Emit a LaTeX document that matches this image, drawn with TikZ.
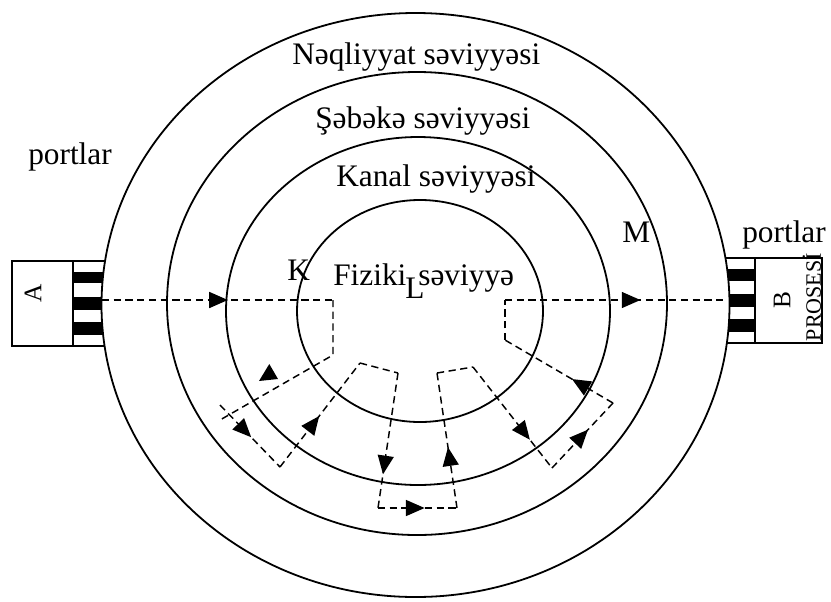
\documentclass[tikz,border=0pt]{standalone}
\usepackage{fontspec}
\setmainfont{Liberation Serif}
\usetikzlibrary{arrows.meta,decorations.markings}
\begin{document}
\begin{tikzpicture}[x=0.75pt,y=-0.75pt,
  lay/.style={line width=1.35pt},
  boxline/.style={line width=1.2pt},
  flow/.style={dash pattern=on 5.4pt off 3.4pt, line width=1.1pt},
  ar/.style={postaction={decorate},decoration={markings,mark=at position #1 with {\arrow{Triangle[length=14pt,width=12pt]}}}},
  lbl/.style={inner sep=0pt, anchor=base west, font=\fontsize{23.5}{27}\selectfont},
  small/.style={inner sep=0pt, rotate=90, font=\fontsize{19}{21}\selectfont},
  tiny/.style={inner sep=0pt, rotate=90, font=\fontsize{16.5}{18}\selectfont}]
\useasboundingbox (0,0) rectangle (831,601);

% port boxes, clipped to the outside of the outer ellipse
\begin{scope}[even odd rule]
\clip (0,0) rectangle (831,601) (415.5,305) ellipse [x radius=314*0.75pt, y radius=292*0.75pt];
\draw[boxline] (110,261) -- (12,261) -- (12,346) -- (110,346);
\draw[boxline] (73,261) -- (73,346);
\fill (73,272) rectangle (110,283);
\fill (73,297) rectangle (110,310);
\fill (73,322) rectangle (110,335);
\draw[boxline] (718,258) -- (822,258) -- (822,343) -- (718,343);
\draw[boxline] (755,258) -- (755,343);
\fill (718,269) rectangle (755,281);
\fill (718,294) rectangle (755,307);
\fill (718,319) rectangle (755,332);
\end{scope}

% layers
\draw[lay] (415.5,305) ellipse [x radius=314*0.75pt, y radius=292*0.75pt];
\draw[lay] (417,303.5) ellipse [x radius=250*0.75pt, y radius=231.5*0.75pt];
\draw[lay] (418,311) ellipse [x radius=192*0.75pt, y radius=174*0.75pt];
\draw[lay] (420,311) ellipse [x radius=123*0.75pt, y radius=111*0.75pt];

% path points
\coordinate (p0) at (102,300);
\coordinate (p1) at (333,300);
\coordinate (p2) at (333,355);
\coordinate (p3) at (220,420);
\coordinate (q0) at (220,405);
\coordinate (q1) at (280,467);
\coordinate (q2) at (360,363);
\coordinate (q3) at (398,373);
\coordinate (q4) at (378,508);
\coordinate (q5) at (457,508);
\coordinate (q6) at (437,373);
\coordinate (q7) at (473,367);
\coordinate (q8) at (552,468);
\coordinate (q9) at (613,403);
\coordinate (r0) at (505,340);
\coordinate (r1) at (505,300);
\coordinate (r2) at (727,300);

\draw[flow,ar=0.545] (p0) -- (p1);
\draw[flow] (p1) -- (p2) -- (p3);
\fill (269.3,364) -- (259,381) -- (278,379) -- cycle;
\draw[flow,ar=0.52] (q0) -- (q1);
\draw[flow,ar=0.49] (q1) -- (q2);
\draw[flow] (q2) -- (q3);
\draw[flow,ar=0.75] (q3) -- (q4);
\draw[flow,ar=0.59] (q4) -- (q5);
\draw[flow,ar=0.45] (q5) -- (q6);
\draw[flow] (q6) -- (q7);
\draw[flow,ar=0.72] (q7) -- (q8);
\draw[flow,ar=0.59] (q8) -- (q9);
\draw[flow,ar=0.38] (q9) -- (r0);
\draw[flow] (r0) -- (r1);
\draw[flow,ar=0.61] (r1) -- (r2);

% labels
\node[lbl] (nq) at (292,64) {Nəqliyyat səviyyəsi};
\node[lbl] (sb) at (315,128) {Şəbəkə səviyyəsi};
\node[lbl] (kn) at (336,186) {Kanal səviyyəsi};
\node[lbl] (fz) at (333,285) {Fiziki\hskip 9pt səviyyə};
\node[lbl] (L) at (405,298) {L};
\node[lbl] (K) at (287,280) {K};
\node[lbl] (M) at (622,242) {M};
\node[lbl] (pl) at (28,164) {portlar};
\node[lbl] (pr) at (742,242) {portlar};
\node[small] (A) at (33,293) {A};
\node[small] (B) at (782,300) {B};
\node[tiny] (pro) at (812,297) {PROSESİ};
\end{tikzpicture}
\end{document}
